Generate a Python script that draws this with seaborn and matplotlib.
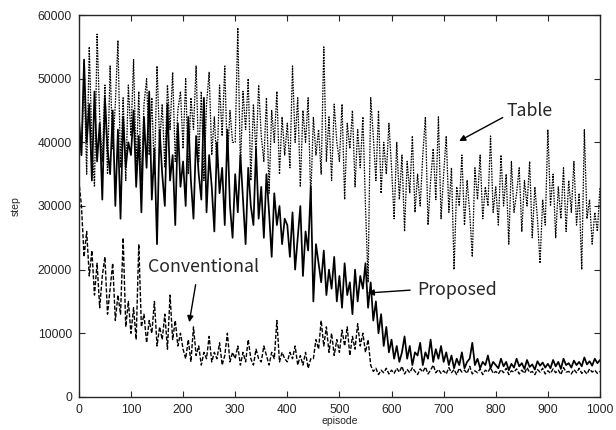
import numpy as np
import pandas as pd
import matplotlib
matplotlib.use("Agg")
import matplotlib.pyplot as plt
import seaborn as sns

# episodes sampled every 5 episodes (0..1000)
episodes = np.arange(0, 1001, 5)

# steps per episode, in thousands
table_k = [
    42, 38, 51, 35, 55, 40, 33, 57, 44, 37, 49, 35, 52, 39, 46, 56, 36, 47, 34, 49,
    41, 53, 36, 48, 34, 46, 50, 38, 47, 35, 52, 40, 46, 36, 49, 42, 51, 37, 45, 48,
    39, 50, 35, 47, 42, 52, 37, 48, 34, 46, 51, 38, 44, 36, 49, 41, 52, 37, 45, 40,
    40, 58, 36, 48, 42, 50, 34, 46, 38, 49, 41, 37, 47, 32, 45, 40, 48, 35, 44, 38,
    43, 36, 52, 40, 47, 33, 45, 40, 47, 31, 44, 38, 42, 35, 55, 37, 44, 34, 46, 40,
    37, 46, 31, 43, 39, 45, 33, 42, 36, 44, 30, 18, 47, 41, 34, 45, 32, 40, 35, 43,
    36, 28, 40, 31, 38, 26, 37, 32, 41, 29, 35, 30, 38, 44, 27, 34, 39, 31, 44, 28,
    35, 41, 29, 36, 20, 33, 30, 38, 27, 34, 29, 22, 36, 31, 38, 28, 33, 30, 41, 29,
    33, 27, 38, 30, 35, 24, 37, 29, 32, 36, 26, 34, 30, 37, 25, 33, 28, 21, 31, 27,
    42, 30, 35, 25, 33, 28, 36, 26, 34, 29, 37, 27, 32, 20, 42, 28, 31, 24, 29, 26, 33,
]
proposed_k = [
    44, 38, 53, 40, 46, 34, 48, 37, 43, 31, 47, 39, 35, 45, 30, 42, 28, 44, 36, 40,
    38, 45, 33, 41, 29, 44, 36, 48, 31, 39, 24, 42, 35, 30, 46, 34, 38, 27, 43, 33,
    37, 30, 44, 34, 28, 41, 35, 31, 47, 29, 38, 33, 26, 40, 32, 36, 27, 42, 30, 25,
    35, 29, 38, 31, 24, 36, 30, 27, 39, 28, 33, 25, 35, 29, 22, 32, 27, 30, 24, 28,
    27, 22, 29, 20, 25, 30, 19, 26, 23, 33, 15, 24, 21, 18, 23, 16, 20, 17, 22, 15,
    19, 14, 21, 16, 18, 13, 20, 15, 19, 17, 21, 14, 18, 12, 15, 10, 13, 8, 11, 7,
    9, 6, 8, 5.5, 7, 9.5, 6, 8, 5, 7, 6.5, 8.5, 5, 7, 6, 9, 5.5, 7.5, 6, 8,
    5.5, 7, 5, 6.5, 4.5, 6, 5, 7, 4.5, 5.5, 6, 8.5, 5, 6, 4.5, 5.5, 5, 6.5, 4.5, 5.5,
    5, 4.5, 6, 4.8, 5.5, 4.2, 5.2, 4.6, 6, 4.8, 5.3, 4.4, 5.8, 4.7, 5.1, 4.3, 5.6, 4.9, 5.4, 4.6,
    5.2, 4.5, 5.8, 4.8, 5.5, 4.4, 6, 5, 5.3, 4.6, 5.7, 5, 5.5, 4.8, 6.2, 5.1, 5.6, 4.9, 6, 5.3, 5.8,
]
conventional_k = [
    34, 30, 22, 26, 19, 23, 16, 21, 14, 19, 22, 13, 17, 21, 12, 16, 13, 25, 11, 15,
    10, 14, 9, 24, 11, 13, 8.5, 12, 10, 15, 8, 11, 9, 13, 7.5, 16, 9, 12, 8, 10,
    7.5, 6, 9, 5.5, 11, 6.5, 8, 5, 7, 6, 9.5, 5.5, 7, 6, 8.5, 5, 6.5, 10, 5.5, 7,
    6, 8, 5, 7, 5.5, 9, 6, 5, 7.5, 6, 5.5, 8, 6.5, 5, 7, 6, 12, 5.5, 7, 6,
    5.5, 7, 6, 8, 5, 6.5, 5, 7, 4.5, 6, 6, 9, 7.5, 12, 8, 11, 7, 10, 6.5, 9,
    7, 10.5, 8, 11, 6.5, 9.5, 7.5, 11.5, 8, 10, 7, 9, 5, 4, 4.5, 3.5, 4.2, 3.8, 4.5, 3.6,
    4.2, 3.7, 4.5, 3.9, 4.8, 3.6, 4.3, 3.8, 4.6, 4, 3.5, 4.4, 3.9, 4.7, 3.6, 4.2, 5, 3.8, 4.3, 3.7,
    4.1, 3.6, 4.6, 3.8, 4.3, 3.5, 4.5, 3.9, 4.2, 3.7, 4.8, 3.6, 4.1, 3.8, 4.4, 3.5, 4.2, 3.9, 4.6, 3.7,
    4, 3.6, 4.3, 3.8, 4.5, 3.5, 4.1, 3.9, 4.4, 3.6, 4.2, 3.7, 4.6, 3.8, 4, 3.5, 4.3, 3.9, 4.5, 3.6,
    4.1, 3.7, 4.4, 3.8, 4.2, 3.5, 4.6, 3.9, 4, 3.6, 4.3, 3.8, 4.5, 3.7, 4.1, 3.6, 4.4, 3.9, 4.2, 3.7, 4,
]

x_ticks = list(range(0, 1001, 100))
y_ticks = list(range(0, 60001, 10000))

df = pd.DataFrame({
    "episode": episodes,
    "Table": np.array(table_k) * 1000,
    "Proposed": np.array(proposed_k) * 1000,
    "Conventional": np.array(conventional_k) * 1000,
})

sns.set_style("ticks")
plt.rcParams["font.family"] = ["Liberation Sans", "DejaVu Sans"]
plt.rcParams["xtick.direction"] = "in"
plt.rcParams["ytick.direction"] = "in"

fig = plt.figure(figsize=(6.16, 4.30), dpi=100)
ax = fig.add_axes([0.128, 0.077, 0.846, 0.888])

sns.lineplot(data=df, x="episode", y="Table", ax=ax, color="black",
             linewidth=0.9, linestyle=(0, (1.3, 0.9)))
sns.lineplot(data=df, x="episode", y="Conventional", ax=ax, color="black",
             linewidth=1.0, linestyle=(0, (3.0, 1.3)))
sns.lineplot(data=df, x="episode", y="Proposed", ax=ax, color="black",
             linewidth=1.25)

ax.set_xlim(0, 1000)
ax.set_ylim(0, 60000)
ax.set_xticks(x_ticks)
ax.set_yticks(y_ticks)
ax.tick_params(axis="both", labelsize=8.7, length=4, width=0.8,
               top=True, right=True, pad=5)
ax.set_xlabel("episode", fontsize=7.5, labelpad=0)
ax.set_ylabel("step", fontsize=7.5, labelpad=12)
for s in ax.spines.values():
    s.set_linewidth(1.0)

# labels with arrows
lab_font = ["Noto Sans CJK JP", "DejaVu Sans"]
arrow = dict(arrowstyle="-|>", color="black", lw=1.0, mutation_scale=9)
ax.text(821, 44900, "Table", fontsize=12.8, va="center", family=lab_font)
ax.annotate("", xy=(725, 40000), xytext=(818, 44100), arrowprops=arrow)
ax.text(649, 16800, "Proposed", fontsize=12.8, va="center", family=lab_font)
ax.annotate("", xy=(549, 16300), xytext=(641, 16800), arrowprops=arrow)
ax.text(132, 20400, "Conventional", fontsize=12.8, va="center", family=lab_font)
ax.annotate("", xy=(211, 11300), xytext=(225, 18060), arrowprops=arrow)

plt.savefig("out.png", dpi=100)
